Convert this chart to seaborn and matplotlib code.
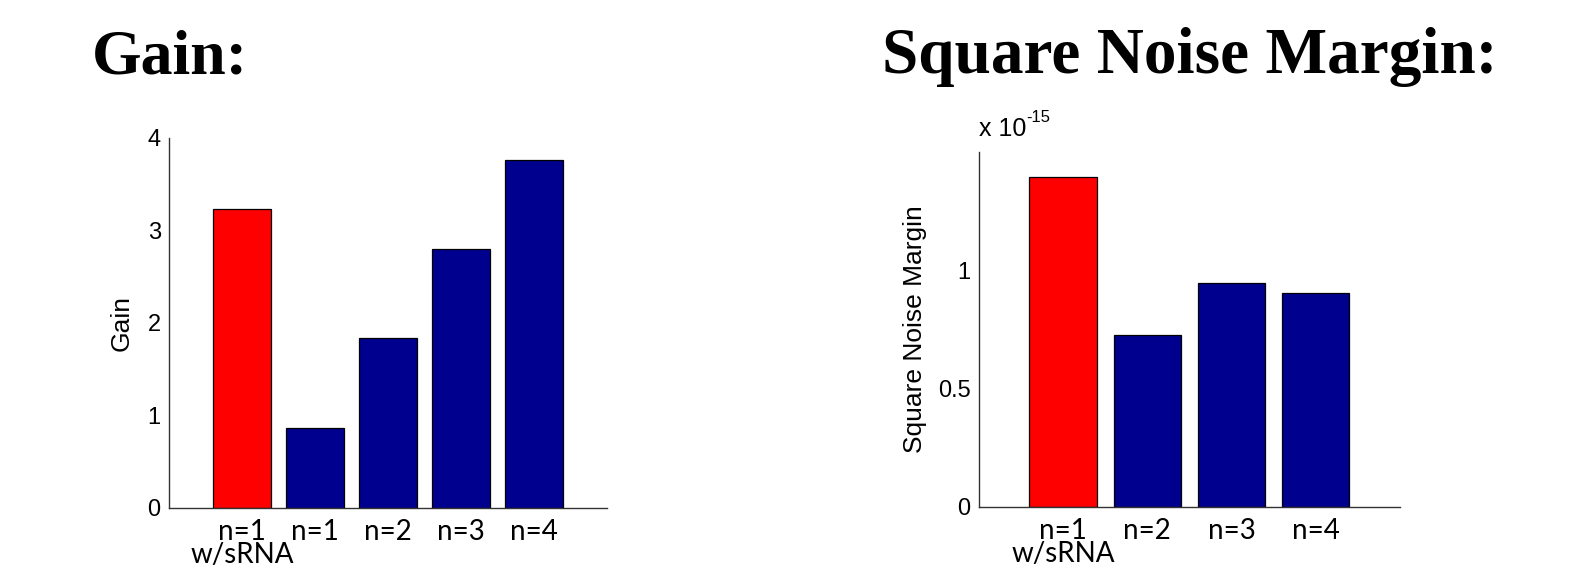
import matplotlib
matplotlib.use('Agg')
from matplotlib import pyplot as plt
import seaborn as sns

# Dados
gain_labels = ['n=1\nw/sRNA', 'n=1', 'n=2', 'n=3', 'n=4']
gain_values = [3.23, 0.87, 1.84, 2.80, 3.76]

snm_labels = ['n=1\nw/sRNA', 'n=2', 'n=3', 'n=4']
snm_values = [1.395e-15, 0.727e-15, 0.945e-15, 0.905e-15]

vermelho = '#FF0000'
azul = '#00008F'

sns.set_style('white')
plt.rcParams['font.family'] = ['Liberation Sans', 'DejaVu Sans']
plt.rcParams['text.color'] = 'black'
plt.rcParams['axes.labelcolor'] = 'black'


def desenhar(ax, labels, values, yticks, ylim, ylabel, labelpad):
    cores = [vermelho] + [azul] * (len(labels) - 1)
    sns.barplot(x=labels, y=values, hue=labels, palette=cores, width=0.8,
                edgecolor='black', linewidth=0.9, saturation=1, legend=False, ax=ax)
    ax.set_xlim(-1, len(labels))
    ax.set_ylim(*ylim)
    ax.set_yticks(yticks)
    ax.set_yticklabels([f'{t:g}' for t in yticks], fontsize=17)
    ax.set_ylabel(ylabel, fontsize=19, labelpad=labelpad)
    ax.tick_params(axis='y', direction='in', length=4, width=1, pad=6, colors='#333333',
                   labelcolor='black')
    ax.tick_params(axis='x', length=0, pad=8, labelcolor='black')
    for lab in ax.get_xticklabels():
        lab.set_fontfamily('Lato')
        lab.set_fontsize(20)
        lab.set_linespacing(0.85)
    for lado in ['top', 'right']:
        ax.spines[lado].set_visible(False)
    for lado in ['left', 'bottom']:
        ax.spines[lado].set_color('#333333')
        ax.spines[lado].set_linewidth(1)


def main():
    fig = plt.figure(figsize=(15.83, 5.65), dpi=100)

    ax1 = fig.add_axes([0.1068, 0.1009, 0.2767, 0.6549])
    desenhar(ax1, gain_labels, gain_values, [0, 1, 2, 3, 4], (0, 4), 'Gain', 10)

    ax2 = fig.add_axes([0.6184, 0.1027, 0.2660, 0.6283])
    desenhar(ax2, snm_labels, [v / 1e-15 for v in snm_values], [0, 0.5, 1], (0, 1.5),
             'Square Noise Margin', 8)
    ax2.text(0.0, 1.045, 'x 10', transform=ax2.transAxes,
             fontsize=18, ha='left', va='baseline')
    ax2.text(0.113, 1.085, '-15', transform=ax2.transAxes,
             fontsize=12, ha='left', va='baseline')

    fig.text(0.058, 0.87, 'Gain:', fontsize=46, fontweight='bold', color='black',
             family='Liberation Serif', ha='left', va='baseline')
    fig.text(0.557, 0.87, 'Square Noise Margin:', fontsize=47, fontweight='bold',
             color='black', family='Liberation Serif', ha='left', va='baseline')

    fig.savefig('out.png', dpi=100, facecolor='white')


if __name__ == '__main__':
    main()
